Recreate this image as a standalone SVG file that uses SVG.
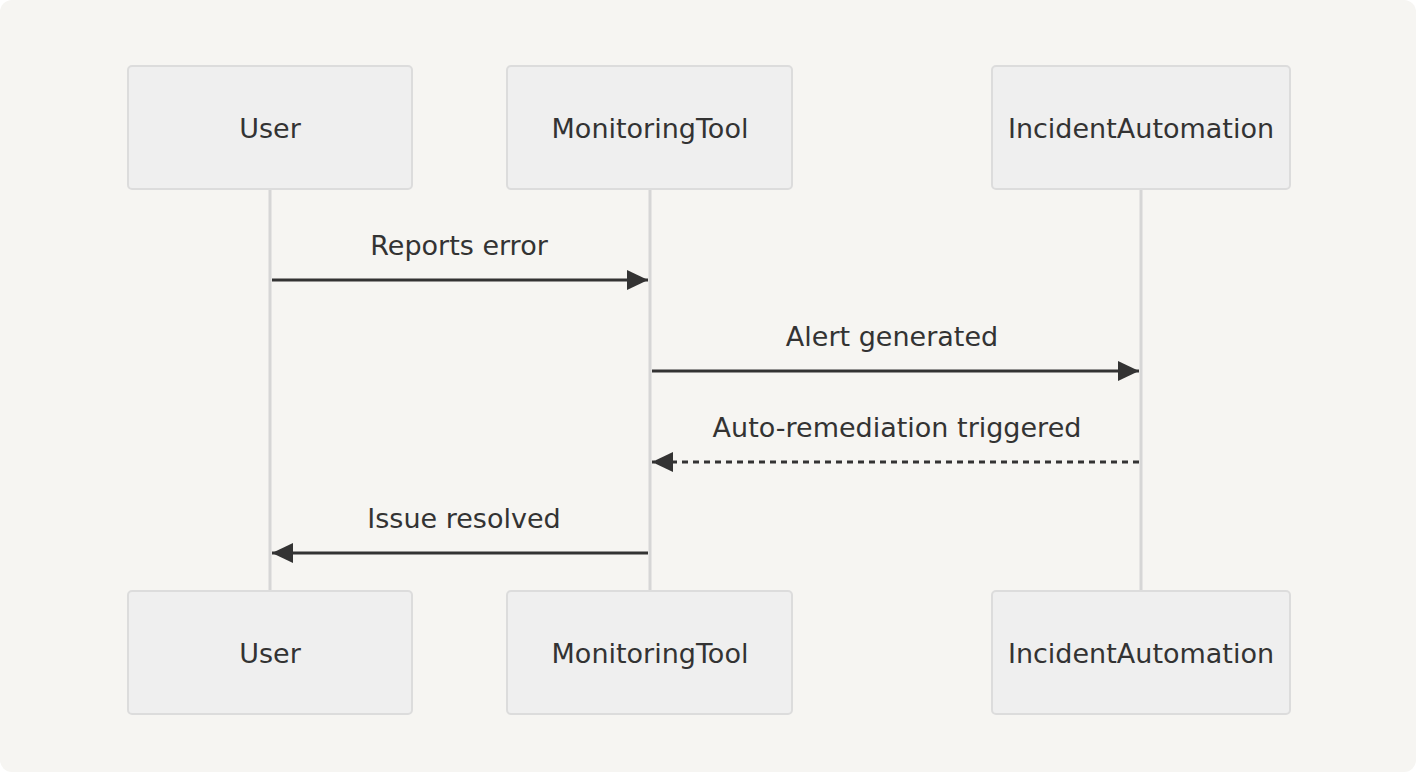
<svg xmlns="http://www.w3.org/2000/svg" width="1416" height="772" viewBox="0 0 1416 772">
<defs>
<style>
.bg{fill:#f6f5f2}
.actor{fill:#efefef;stroke:#dcdcdc;stroke-width:2}
.life{stroke:#d6d6d6;stroke-width:3}
.lbl{font-family:"DejaVu Sans",Verdana,sans-serif;font-size:27px;fill:#333;text-anchor:middle}
.msg{stroke:#333;stroke-width:3;fill:none}
.dash{stroke-dasharray:6,5}
</style>
<marker id="arr" markerUnits="userSpaceOnUse" markerWidth="22" markerHeight="22" refX="21" refY="10" orient="auto">
<path d="M0,0 L21,10 L0,20 Z" fill="#333"/>
</marker>
</defs>
<rect class="bg" x="0" y="0" width="1416" height="772" rx="12"/>
<g id="lifelines">
<line class="life" x1="270" y1="189" x2="270" y2="591"/>
<line class="life" x1="650" y1="189" x2="650" y2="591"/>
<line class="life" x1="1141" y1="189" x2="1141" y2="591"/>
</g>
<g id="actor-user-top"><rect class="actor" x="128" y="66" width="284" height="123" rx="4"/><text class="lbl" x="270" y="138">User</text></g>
<g id="actor-monitoring-top"><rect class="actor" x="507" y="66" width="285" height="123" rx="4"/><text class="lbl" x="650" y="138">MonitoringTool</text></g>
<g id="actor-incident-top"><rect class="actor" x="992" y="66" width="298" height="123" rx="4"/><text class="lbl" x="1141" y="138">IncidentAutomation</text></g>
<g id="actor-user-bottom"><rect class="actor" x="128" y="591" width="284" height="123" rx="4"/><text class="lbl" x="270" y="663">User</text></g>
<g id="actor-monitoring-bottom"><rect class="actor" x="507" y="591" width="285" height="123" rx="4"/><text class="lbl" x="650" y="663">MonitoringTool</text></g>
<g id="actor-incident-bottom"><rect class="actor" x="992" y="591" width="298" height="123" rx="4"/><text class="lbl" x="1141" y="663">IncidentAutomation</text></g>
<g id="connectors">
<line class="msg" x1="272" y1="280" x2="648" y2="280" marker-end="url(#arr)"/>
<text class="lbl" x="459" y="255">Reports error</text>
<line class="msg" x1="652" y1="371" x2="1139" y2="371" marker-end="url(#arr)"/>
<text class="lbl" x="892" y="346">Alert generated</text>
<line class="msg dash" x1="1139" y1="462" x2="652" y2="462" marker-end="url(#arr)"/>
<text class="lbl" x="897" y="437">Auto-remediation triggered</text>
<line class="msg" x1="648" y1="553" x2="272" y2="553" marker-end="url(#arr)"/>
<text class="lbl" x="464" y="528">Issue resolved</text>
</g>
</svg>
